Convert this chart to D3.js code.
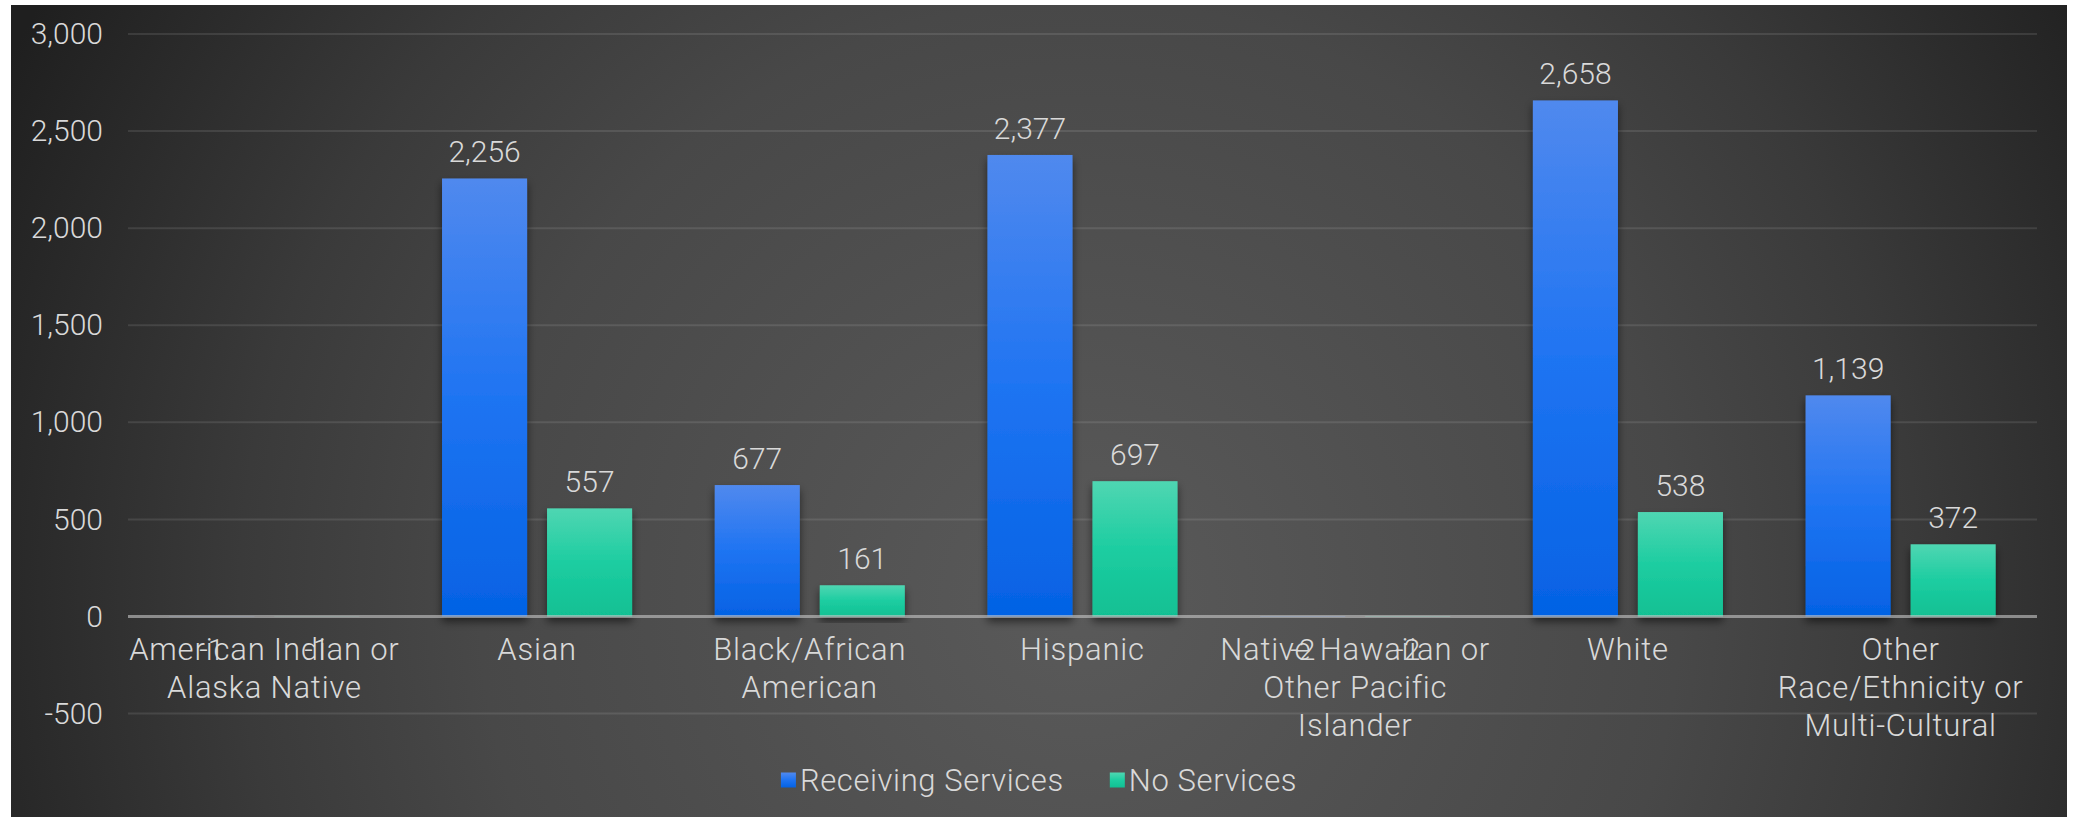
<!DOCTYPE html>
<html>
<head>
<meta charset="utf-8">
<script src="https://cdn.jsdelivr.net/npm/d3@7"></script>
<style>
  html, body { margin: 0; padding: 0; background: #ffffff; }
  svg { display: block; }
  text { font-family: Roboto, "Open Sans", sans-serif; font-weight: 300; fill: #d9d9d9; }
</style>
</head>
<body>
<svg id="chart" width="2078" height="817"></svg>
<script>
// Clients by race/ethnicity, split by service status
const categories = [
  "American Indian or\nAlaska Native",
  "Asian",
  "Black/African\nAmerican",
  "Hispanic",
  "Native Hawaiian or\nOther Pacific\nIslander",
  "White",
  "Other\nRace/Ethnicity or\nMulti-Cultural"
];
const seriesNames = ["Receiving Services", "No Services"];
const receivingServices = [-1, 2256, 677, 2377, -2, 2658, 1139];
const noServices = [-1, 557, 161, 697, -2, 538, 372];
const yTicks = [-500, 0, 500, 1000, 1500, 2000, 2500, 3000];

const seriesValues = [receivingServices, noServices];
const rows = categories.map((c, i) => ({
  category: c,
  values: seriesNames.map((s, k) => ({ series: s, value: seriesValues[k][i] }))
}));

// Thousands separator with a plain hyphen for negatives
const fmt = d3.formatLocale({ decimal: ".", thousands: ",", grouping: [3], currency: ["$", ""], minus: "-" }).format(",");

const svg = d3.select("#chart");
const defs = svg.append("defs");

// Panel background: dark radial gradient
const bg = defs.append("radialGradient")
  .attr("id", "bgGrad")
  .attr("gradientUnits", "userSpaceOnUse")
  .attr("cx", 1080).attr("cy", 600).attr("r", 1200);
[[0, "#5a5a5a"], [0.5, "#484848"], [0.7, "#3a3a3a"], [0.9, "#282828"], [1, "#1f1f1f"]]
  .forEach(([o, c]) => bg.append("stop").attr("offset", o).attr("stop-color", c));

// Bar fills
const fills = {
  "Receiving Services": [[0, "#5089ee"], [0.5, "#1f74f2"], [1, "#0462e4"]],
  "No Services": [[0, "#4fd6b2"], [0.5, "#1dcda1"], [1, "#11c093"]]
};
const fillId = s => s === "Receiving Services" ? "gradRecv" : "gradNo";
seriesNames.forEach(s => {
  const g = defs.append("linearGradient").attr("id", fillId(s))
    .attr("x1", 0).attr("y1", 0).attr("x2", 0).attr("y2", 1);
  fills[s].forEach(([o, c]) => g.append("stop").attr("offset", o).attr("stop-color", c));
});

const shadow = defs.append("filter").attr("id", "barShadow")
  .attr("x", "-30%").attr("y", "-10%").attr("width", "160%").attr("height", "130%");
shadow.append("feDropShadow").attr("dx", 0).attr("dy", 5).attr("stdDeviation", 4)
  .attr("flood-color", "#000").attr("flood-opacity", 0.55);

svg.append("rect")
  .attr("x", 11).attr("y", 5).attr("width", 2056).attr("height", 812)
  .attr("fill", "url(#bgGrad)");

// Scales
const x = d3.scaleBand().domain(categories).range([128, 2037]).padding(0);
const xs = d3.scaleBand().domain(seriesNames).range([0, x.bandwidth()])
  .paddingInner(0.19).paddingOuter(0.3935);
const y = d3.scaleLinear().domain([-500, 3000]).range([713.6, 34]);

// Gridlines
svg.append("g")
  .selectAll("line")
  .data(yTicks.filter(t => t !== 0))
  .join("line")
  .attr("x1", 128).attr("x2", 2037)
  .attr("y1", d => y(d)).attr("y2", d => y(d))
  .attr("stroke", "#ffffff").attr("stroke-opacity", 0.1).attr("stroke-width", 2);

// Y axis labels
const yAxis = d3.axisLeft(y).tickValues(yTicks).tickFormat(fmt).tickSize(0).tickPadding(0);
const yg = svg.append("g").attr("transform", "translate(103,0)").call(yAxis);
yg.select(".domain").remove();
yg.selectAll("text")
  .attr("font-size", 30)
  .attr("fill", "#d9d9d9")
  .attr("font-family", "Roboto, sans-serif")
  .attr("font-weight", 300);

// Bars
const groups = svg.append("g").selectAll("g")
  .data(rows)
  .join("g")
  .attr("transform", d => `translate(${x(d.category)},0)`);

groups.selectAll("rect")
  .data(d => d.values)
  .join("rect")
  .attr("x", d => xs(d.series))
  .attr("width", xs.bandwidth())
  .attr("y", d => y(Math.max(0, d.value)))
  .attr("height", d => Math.abs(y(d.value) - y(0)))
  .attr("fill", d => `url(#${fillId(d.series)})`)
  .attr("filter", "url(#barShadow)");

// Zero line
svg.append("line")
  .attr("x1", 128).attr("x2", 2037)
  .attr("y1", y(0)).attr("y2", y(0))
  .attr("stroke", "#c8c8c8").attr("stroke-opacity", 0.6).attr("stroke-width", 3);

// Value labels
groups.selectAll("text.value")
  .data(d => d.values)
  .join("text")
  .attr("class", "value")
  .attr("x", d => xs(d.series) + xs.bandwidth() / 2)
  .attr("y", d => d.value >= 0 ? y(d.value) - 16 : y(d.value) + 43)
  .attr("text-anchor", "middle")
  .attr("font-size", 30)
  .text(d => fmt(d.value));

// Category labels
const catLabels = svg.append("g").selectAll("text")
  .data(categories)
  .join("text")
  .attr("x", d => x(d) + x.bandwidth() / 2)
  .attr("y", 660)
  .attr("text-anchor", "middle")
  .attr("font-size", 31)
  .attr("letter-spacing", 0.8);
catLabels.selectAll("tspan")
  .data(d => d.split("\n"))
  .join("tspan")
  .attr("x", function () { return this.parentNode.getAttribute("x"); })
  .attr("dy", (d, i) => i === 0 ? 0 : 38)
  .text(d => d);

// Legend
const legend = svg.append("g");
const items = legend.selectAll("g").data(seriesNames).join("g");
items.append("rect")
  .attr("width", 15).attr("height", 15).attr("y", -7.5)
  .attr("fill", d => `url(#${fillId(d)})`);
items.append("text")
  .attr("x", 19).attr("y", 0).attr("dy", "0.35em")
  .attr("font-size", 31)
  .attr("letter-spacing", 0.6)
  .text(d => d);
let cursor = 0;
items.each(function () {
  const w = this.getBBox().width;
  d3.select(this).attr("transform", `translate(${cursor},780)`);
  cursor += w + 46;
});
const totalW = cursor - 46;
legend.attr("transform", `translate(${1039 - totalW / 2},0)`);
</script>
</body>
</html>
